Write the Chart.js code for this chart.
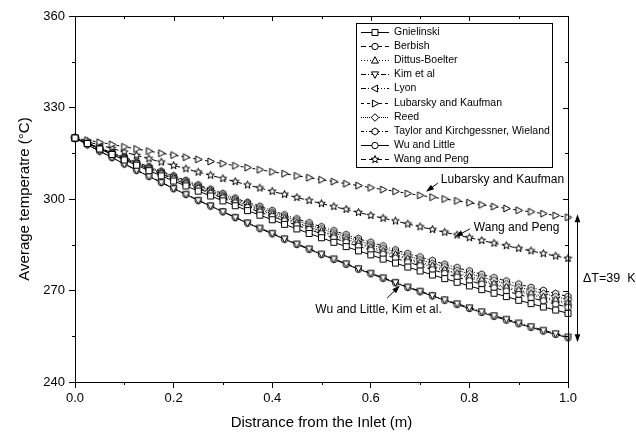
<!DOCTYPE html>
<html>
<head>
<meta charset="utf-8">
<script src="https://cdn.jsdelivr.net/npm/chart.js@4.4.0/dist/chart.umd.min.js"></script>
<style>
  html, body { margin: 0; padding: 0; background: #fff; }
</style>
</head>
<body>
<canvas id="myChart" width="636" height="439"></canvas>
<script>
// distance from the inlet (m)
var distance = [0, 0.025, 0.05, 0.075, 0.1, 0.125, 0.15, 0.175, 0.2, 0.225, 0.25, 0.275, 0.3, 0.325, 0.35, 0.375, 0.4, 0.425, 0.45, 0.475, 0.5,
  0.525, 0.55, 0.575, 0.6, 0.625, 0.65, 0.675, 0.7, 0.725, 0.75, 0.775, 0.8, 0.825, 0.85, 0.875, 0.9, 0.925, 0.95, 0.975, 1.0];

// average temperature (C) per correlation
var gnielinski = [320.0, 318.2, 316.4, 314.6, 312.8, 311.1, 309.3, 307.6, 305.9, 304.3, 302.6, 301.0, 299.4, 297.8, 296.2, 294.7, 293.2, 291.7, 290.2, 288.7, 287.3,
  285.8, 284.4, 283.0, 281.7, 280.3, 279.0, 277.7, 276.4, 275.1, 273.9, 272.7, 271.5, 270.3, 269.1, 268.0, 266.8, 265.7, 264.6, 263.6, 262.5];
var berbish = [320.0, 318.3, 316.5, 314.8, 313.1, 311.5, 309.8, 308.2, 306.5, 304.9, 303.4, 301.8, 300.3, 298.7, 297.2, 295.7, 294.3, 292.8, 291.4, 290.0, 288.6,
  287.2, 285.8, 284.5, 283.2, 281.9, 280.6, 279.3, 278.1, 276.8, 275.6, 274.4, 273.2, 272.1, 270.9, 269.8, 268.7, 267.6, 266.6, 265.5, 264.5];
var dittusBoelter = [320.0, 318.3, 316.7, 315.0, 313.4, 311.7, 310.2, 308.6, 307.0, 305.4, 303.9, 302.4, 300.9, 299.4, 298.0, 296.5, 295.1, 293.7, 292.3, 290.9, 289.5,
  288.2, 286.9, 285.6, 284.3, 283.0, 281.8, 280.5, 279.3, 278.1, 276.9, 275.7, 274.6, 273.5, 272.3, 271.2, 270.2, 269.1, 268.0, 267.0, 266.0];
var kim = [320.0, 317.8, 315.7, 313.6, 311.5, 309.5, 307.5, 305.5, 303.5, 301.6, 299.6, 297.8, 295.9, 294.0, 292.2, 290.5, 288.8, 287.0, 285.3, 283.7, 282.0,
  280.4, 278.8, 277.2, 275.7, 274.2, 272.7, 271.2, 269.8, 268.4, 267.0, 265.7, 264.4, 263.1, 261.8, 260.6, 259.4, 258.2, 257.0, 255.9, 254.8];
var lyon = [320.0, 318.3, 316.6, 314.9, 313.3, 311.6, 310.0, 308.4, 306.8, 305.3, 303.7, 302.2, 300.7, 299.2, 297.7, 296.3, 294.8, 293.4, 292.0, 290.6, 289.2,
  287.9, 286.5, 285.2, 283.9, 282.6, 281.4, 280.1, 278.9, 277.7, 276.5, 275.3, 274.1, 273.0, 271.9, 270.8, 269.7, 268.6, 267.6, 266.5, 265.5];
var lubarsky = [320.0, 319.3, 318.6, 317.9, 317.1, 316.4, 315.7, 315.0, 314.4, 313.7, 313.0, 312.3, 311.6, 310.9, 310.3, 309.6, 308.9, 308.3, 307.6, 307.0, 306.3,
  305.7, 305.0, 304.4, 303.7, 303.1, 302.5, 301.8, 301.2, 300.6, 300.0, 299.4, 298.8, 298.1, 297.5, 296.9, 296.3, 295.8, 295.2, 294.6, 294.0];
var reed = [320.0, 318.4, 316.7, 315.1, 313.5, 311.9, 310.4, 308.8, 307.3, 305.8, 304.3, 302.8, 301.3, 299.9, 298.5, 297.0, 295.6, 294.2, 292.9, 291.5, 290.2,
  288.9, 287.6, 286.3, 285.0, 283.8, 282.6, 281.3, 280.1, 278.9, 277.8, 276.6, 275.5, 274.4, 273.3, 272.2, 271.1, 270.1, 269.0, 268.0, 267.0];
var taylor = [320.0, 318.4, 316.8, 315.2, 313.7, 312.1, 310.6, 309.1, 307.6, 306.1, 304.6, 303.2, 301.8, 300.3, 298.9, 297.6, 296.2, 294.8, 293.5, 292.2, 290.9,
  289.6, 288.3, 287.0, 285.8, 284.6, 283.3, 282.1, 281.0, 279.8, 278.6, 277.5, 276.4, 275.3, 274.2, 273.1, 272.1, 271.0, 270.0, 269.0, 268.0];
var wuLittle = [320.0, 317.8, 315.7, 313.6, 311.5, 309.4, 307.4, 305.4, 303.4, 301.5, 299.5, 297.7, 295.8, 293.9, 292.1, 290.3, 288.6, 286.8, 285.1, 283.5, 281.8,
  280.2, 278.6, 277.0, 275.5, 274.0, 272.5, 271.0, 269.6, 268.2, 266.8, 265.4, 264.1, 262.8, 261.5, 260.3, 259.1, 257.9, 256.7, 255.6, 254.5];
var wangPeng = [320.0, 318.8, 317.7, 316.6, 315.4, 314.3, 313.2, 312.1, 311.0, 309.9, 308.8, 307.8, 306.7, 305.7, 304.6, 303.6, 302.5, 301.5, 300.5, 299.5, 298.5,
  297.5, 296.6, 295.6, 294.6, 293.7, 292.8, 291.8, 290.9, 290.0, 289.1, 288.2, 287.3, 286.4, 285.5, 284.7, 283.8, 283.0, 282.1, 281.3, 280.5];

var seriesNames = ['Gnielinski', 'Berbish', 'Dittus-Boelter', 'Kim et al', 'Lyon', 'Lubarsky and Kaufman', 'Reed',
  'Taylor and Kirchgessner, Wieland', 'Wu and Little', 'Wang and Peng'];
var seriesValues = [gnielinski, berbish, dittusBoelter, kim, lyon, lubarsky, reed, taylor, wuLittle, wangPeng];

var xTicks = [0, 0.2, 0.4, 0.6, 0.8, 1.0];
var yTicks = [240, 270, 300, 330, 360];

// look of each series
var markers = ['square', 'circle', 'triUp', 'triDown', 'triLeft', 'triRight', 'diamond', 'hexagon', 'circle', 'star'];
var dashes = [[], [5, 3], [1, 2], [5, 2, 1, 2], [5, 2, 1, 2, 1, 2], [3, 3], [1, 1], [3, 2, 1, 2], [], [5, 3]];

var FONT = '"Liberation Sans", Arial, sans-serif';

function polygon(g, pts) {
  g.beginPath();
  g.moveTo(pts[0][0], pts[0][1]);
  for (var i = 1; i < pts.length; i++) g.lineTo(pts[i][0], pts[i][1]);
  g.closePath();
}

function drawMarker(g, shape) {
  g.fillStyle = '#fff';
  g.strokeStyle = '#000';
  g.lineWidth = 1;
  g.setLineDash([]);
  if (shape === 'square') {
    g.beginPath(); g.rect(-3, -3, 6, 6);
  } else if (shape === 'circle') {
    g.beginPath(); g.arc(0, 0, 3.2, 0, Math.PI * 2);
  } else if (shape === 'triUp') {
    polygon(g, [[0, -3.8], [3.5, 2.6], [-3.5, 2.6]]);
  } else if (shape === 'triDown') {
    polygon(g, [[0, 3.8], [3.5, -2.6], [-3.5, -2.6]]);
  } else if (shape === 'triLeft') {
    polygon(g, [[-3.8, 0], [2.6, -3.5], [2.6, 3.5]]);
  } else if (shape === 'triRight') {
    polygon(g, [[3.8, 0], [-2.6, -3.5], [-2.6, 3.5]]);
  } else if (shape === 'diamond') {
    polygon(g, [[0, -3.8], [3.8, 0], [0, 3.8], [-3.8, 0]]);
  } else if (shape === 'hexagon') {
    var h = [];
    for (var k = 0; k < 6; k++) {
      var a = Math.PI / 6 + k * Math.PI / 3;
      h.push([3.5 * Math.cos(a), 3.5 * Math.sin(a)]);
    }
    polygon(g, h);
  } else if (shape === 'star') {
    var s = [];
    for (var j = 0; j < 10; j++) {
      var r = j % 2 === 0 ? 4 : 1.7;
      var b = -Math.PI / 2 + j * Math.PI / 5;
      s.push([r * Math.cos(b), r * Math.sin(b)]);
    }
    polygon(g, s);
  }
  g.fill();
  g.stroke();
}

function markerCanvas(shape) {
  var c = document.createElement('canvas');
  c.width = 11; c.height = 11;
  var g = c.getContext('2d');
  g.translate(5.5, 5.5);
  drawMarker(g, shape);
  return c;
}

var datasets = seriesNames.map(function (name, i) {
  return {
    label: name,
    data: distance.map(function (d, j) { return { x: d, y: seriesValues[i][j] }; }),
    borderColor: '#000',
    borderWidth: 1,
    borderDash: dashes[i],
    pointStyle: markerCanvas(markers[i]),
    pointRadius: 3.5,
    tension: 0,
    fill: false,
    clip: false
  };
});

function arrow(ctx, x1, y1, x2, y2) {
  var ang = Math.atan2(y2 - y1, x2 - x1);
  ctx.beginPath();
  ctx.moveTo(x1, y1);
  ctx.lineTo(x2 - 5 * Math.cos(ang), y2 - 5 * Math.sin(ang));
  ctx.stroke();
  ctx.beginPath();
  ctx.moveTo(x2, y2);
  ctx.lineTo(x2 - 8 * Math.cos(ang) + 2.8 * Math.sin(ang), y2 - 8 * Math.sin(ang) - 2.8 * Math.cos(ang));
  ctx.lineTo(x2 - 8 * Math.cos(ang) - 2.8 * Math.sin(ang), y2 - 8 * Math.sin(ang) + 2.8 * Math.cos(ang));
  ctx.closePath();
  ctx.fill();
}

var decorations = {
  id: 'decorations',
  afterDraw: function (chart) {
    var ctx = chart.ctx, a = chart.chartArea;
    var xs = chart.scales.x, ys = chart.scales.y;
    ctx.save();
    ctx.strokeStyle = '#000';
    ctx.fillStyle = '#000';
    ctx.lineWidth = 1;
    ctx.setLineDash([]);

    // frame top + right
    ctx.beginPath();
    ctx.moveTo(a.left, a.top + 0.5); ctx.lineTo(a.right + 0.5, a.top + 0.5); ctx.lineTo(a.right + 0.5, a.bottom);
    ctx.stroke();

    // ticks: minor outward on bottom/left, inward on top/right
    ctx.beginPath();
    for (var v = 0; v <= 1.0001; v += 0.1) {
      var px = Math.round(xs.getPixelForValue(v)) + 0.5;
      var major = Math.round(v * 10) % 2 === 0;
      if (!major) { ctx.moveTo(px, a.bottom); ctx.lineTo(px, a.bottom + 3); }
      ctx.moveTo(px, a.top); ctx.lineTo(px, a.top + (major ? 5 : 3));
    }
    for (var t = 240; t <= 360; t += 15) {
      var py = Math.round(ys.getPixelForValue(t)) + 0.5;
      var maj = (t - 240) % 30 === 0;
      if (!maj) { ctx.moveTo(a.left, py); ctx.lineTo(a.left - 3, py); }
      ctx.moveTo(a.right, py); ctx.lineTo(a.right - (maj ? 5 : 3), py);
    }
    ctx.stroke();

    // curve labels with arrows
    ctx.font = '12px ' + FONT;
    ctx.textBaseline = 'middle';
    ctx.textAlign = 'left';
    ctx.fillText('Lubarsky and Kaufman', xs.getPixelForValue(0.742), ys.getPixelForValue(306.2));
    arrow(ctx, xs.getPixelForValue(0.736), ys.getPixelForValue(305.2), xs.getPixelForValue(0.712), ys.getPixelForValue(302.4));
    ctx.fillText('Wang and Peng', xs.getPixelForValue(0.809), ys.getPixelForValue(290.5));
    arrow(ctx, xs.getPixelForValue(0.801), ys.getPixelForValue(290.2), xs.getPixelForValue(0.771), ys.getPixelForValue(287.6));
    ctx.textAlign = 'right';
    ctx.fillText('Wu and Little, Kim et al.', xs.getPixelForValue(0.744), ys.getPixelForValue(263.6));
    arrow(ctx, xs.getPixelForValue(0.633), ys.getPixelForValue(267.5), xs.getPixelForValue(0.659), ys.getPixelForValue(271.6));

    // delta T double arrow
    var ax = a.right + 9.5;
    var yTop = ys.getPixelForValue(295), yBot = ys.getPixelForValue(253);
    var ym = (yTop + yBot) / 2;
    arrow(ctx, ax, ym, ax, yTop);
    arrow(ctx, ax, ym, ax, yBot);
    ctx.textAlign = 'left';
    ctx.font = '12.5px ' + FONT;
    ctx.fillText('\u0394T=39  K', a.right + 15, ys.getPixelForValue(273.8));

    // legend box
    var lx = 356, ly = 23, lw = 196, lh = 144;
    ctx.fillStyle = '#fff';
    ctx.fillRect(lx, ly, lw, lh);
    ctx.strokeRect(lx + 0.5, ly + 0.5, lw, lh);
    ctx.font = '10.5px ' + FONT;
    ctx.textAlign = 'left';
    seriesNames.forEach(function (name, i) {
      var yy = Math.round(ly + 9 + i * 14.1) + 0.5;
      ctx.setLineDash(dashes[i]);
      ctx.beginPath();
      ctx.moveTo(lx + 5, yy); ctx.lineTo(lx + 33, yy);
      ctx.stroke();
      ctx.setLineDash([]);
      ctx.save();
      ctx.translate(lx + 19, yy);
      drawMarker(ctx, markers[i]);
      ctx.restore();
      ctx.fillStyle = '#000';
      ctx.fillText(name, lx + 38, yy);
    });
    ctx.restore();
  }
};

var ctx = document.getElementById('myChart').getContext('2d');

var myChart = new Chart(ctx, {
  type: 'line',
  data: { datasets: datasets },
  options: {
    responsive: false,
    animation: false,
    layout: { padding: { top: 16, right: 68, bottom: 0, left: 0 } },
    plugins: {
      legend: { display: false },
      tooltip: { enabled: false }
    },
    scales: {
      x: {
        type: 'linear',
        min: 0,
        max: 1,
        afterBuildTicks: function (scale) { scale.ticks = xTicks.map(function (v) { return { value: v }; }); },
        afterFit: function (scale) { scale.height = 57; },
        ticks: {
          color: '#000',
          font: { family: FONT, size: 13 },
          padding: 3,
          maxRotation: 0,
          callback: function (v) { return Number(v).toFixed(1); }
        },
        grid: { drawOnChartArea: false, drawTicks: true, tickLength: 6, color: '#000' },
        border: { display: true, color: '#000', width: 1 },
        title: {
          display: true,
          text: 'Distrance from the Inlet (m)',
          color: '#000',
          font: { family: FONT, size: 15 },
          padding: { top: 0, bottom: 7 }
        }
      },
      y: {
        type: 'linear',
        min: 240,
        max: 360,
        afterBuildTicks: function (scale) { scale.ticks = yTicks.map(function (v) { return { value: v }; }); },
        afterFit: function (scale) { scale.width = 75; },
        ticks: {
          color: '#000',
          font: { family: FONT, size: 13 },
          padding: 4
        },
        grid: { drawOnChartArea: false, drawTicks: true, tickLength: 6, color: '#000' },
        border: { display: true, color: '#000', width: 1 },
        title: {
          display: true,
          text: 'Average temperatre (\u00B0C)',
          color: '#000',
          font: { family: FONT, size: 15 },
          padding: { top: 16, bottom: 0 }
        }
      }
    }
  },
  plugins: [decorations]
});
</script>
</body>
</html>
